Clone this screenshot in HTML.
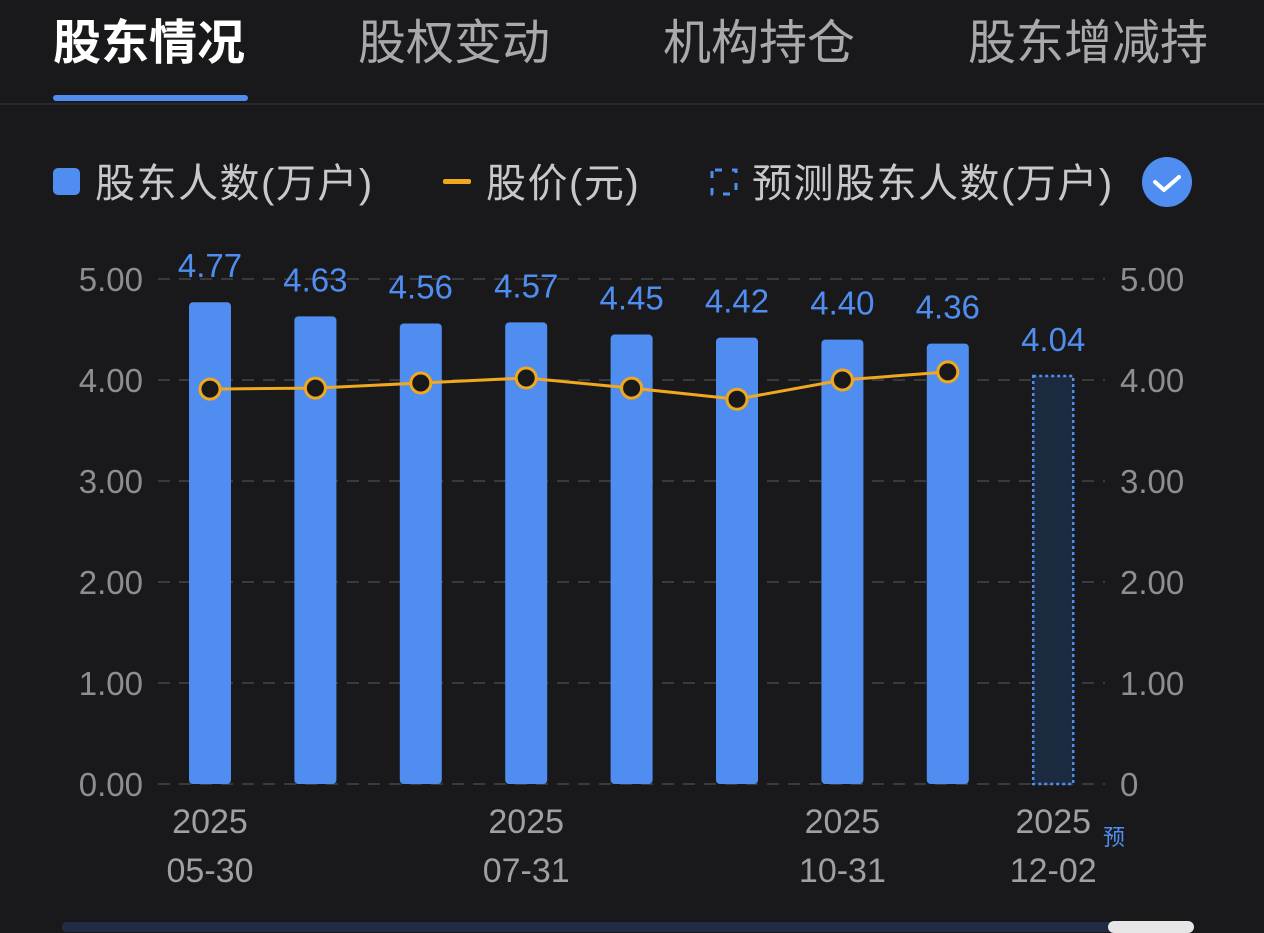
<!DOCTYPE html>
<html><head><meta charset="utf-8"><style>
body{margin:0;width:1264px;height:928px;background:#19191b;overflow:hidden;font-family:"Liberation Sans","Noto Sans CJK SC",sans-serif;position:relative}
.tab{position:absolute;top:14px;font-size:48px;line-height:60px;color:#a9a9ab}
</style></head><body>
<div class="tab" style="left:53px;color:#fff;font-weight:bold">股东情况</div>
<div class="tab" style="left:358px">股权变动</div>
<div class="tab" style="left:663px">机构持仓</div>
<div class="tab" style="left:968px">股东增减持</div>
<div style="position:absolute;left:53px;top:95px;width:195px;height:6px;border-radius:3px;background:#4f8ef0"></div>
<div style="position:absolute;left:0;top:103px;width:1264px;height:2px;background:#2a2a2d"></div>
<svg width="1264" height="928" style="position:absolute;left:0;top:0">
<g font-size="40" fill="#c8c8ca" letter-spacing="1.5">
<rect x="53" y="168" width="27" height="27" rx="5" fill="#4f8ef0"/>
<text x="95" y="197">股东人数(万户)</text>
<rect x="443" y="179" width="28" height="5" rx="2" fill="#f0a81e"/>
<text x="486" y="197">股价(元)</text>
<rect x="712" y="170" width="24" height="24" fill="none" stroke="#4f8ef0" stroke-width="3" stroke-dasharray="7 10" stroke-dashoffset="-3"/>
<text x="752" y="197">预测股东人数(万户)</text>
</g>
<circle cx="1167" cy="182" r="25" fill="#4f8ef0"/>
<path d="M1155 182 l9 8 l15 -13" stroke="#fff" stroke-width="4" fill="none" stroke-linecap="round" stroke-linejoin="round"/>
<g id="g"></g>
</svg>
<div style="position:absolute;left:62px;top:922px;width:1130px;height:10px;background:#222b45;border-radius:4px"></div>
<div style="position:absolute;left:1108px;top:921px;width:86px;height:12px;background:#e6e6e6;border-radius:8px"></div>
<script>
const categories=["2025-05-30","2025-06-30","2025-07-15","2025-07-31","2025-08-31","2025-09-30","2025-10-31","2025-11-15","2025-12-02"];
const holders=[4.77,4.63,4.56,4.57,4.45,4.42,4.40,4.36];
const forecast=4.04;
const price=[3.91,3.92,3.97,4.02,3.92,3.81,4.00,4.08];
const leftTicks=["0.00","1.00","2.00","3.00","4.00","5.00"];
const rightTicks=["0","1.00","2.00","3.00","4.00","5.00"];
const xLabels=[[0,"2025","05-30"],[3,"2025","07-31"],[6,"2025","10-31"],[8,"2025","12-02"]];
const NS="http://www.w3.org/2000/svg",g=document.getElementById('g');
const y=v=>784-v*101, x=i=>210+i*105.4;
function mk(t,a,txt){const e=document.createElementNS(NS,t);for(const k in a)e.setAttribute(k,a[k]);if(txt!=null)e.textContent=txt;g.appendChild(e);return e;}
leftTicks.forEach((t,i)=>{
 const l=mk('line',{x1:158,x2:1105,y1:y(i),y2:y(i),stroke:'#3a3a3d','stroke-width':2,'stroke-dasharray':'12 9'});
 
 
 const a=mk('text',{x:143,y:y(i)+12,'text-anchor':'end','font-size':33,fill:'#8e8e91'},t);
 
 
 const b=mk('text',{x:1120,y:y(i)+12,'font-size':33,fill:'#8e8e91'},rightTicks[i]);
 
 
});
holders.forEach((v,i)=>{
 const r=mk('rect',{x:x(i)-21,y:y(v),width:42,height:y(0)-y(v),rx:4,fill:'#4f8ef0'});
 
 
 const t=mk('text',{x:x(i),y:y(v)-25,'text-anchor':'middle','font-size':33,fill:'#4f8ef0'},v.toFixed(2));
 
 
});
const fr=mk('rect',{x:x(8)-20,y:y(forecast),width:40,height:y(0)-y(forecast),fill:'#1c2a3f',stroke:'#4f8ef0','stroke-width':2.5,'stroke-dasharray':'3 3'});


const ft=mk('text',{x:x(8),y:y(forecast)-25,'text-anchor':'middle','font-size':33,fill:'#4f8ef0'},forecast.toFixed(2));


const pl=mk('polyline',{points:price.map((v,i)=>x(i)+','+y(v)).join(' '),fill:'none',stroke:'#f0a81e','stroke-width':3});


price.forEach((v,i)=>{
 const c=mk('circle',{cx:x(i),cy:y(v),r:10,fill:'#19191b',stroke:'#f0a81e','stroke-width':3});
 
 
});
xLabels.forEach(([i,a,b])=>{
 const t1=mk('text',{x:x(i),y:833,'text-anchor':'middle','font-size':34,fill:'#a0a0a3'},a);
 
 
 const t2=mk('text',{x:x(i),y:882,'text-anchor':'middle','font-size':34,fill:'#a0a0a3'},b);
 
 
});
const yu=mk('text',{x:1103,y:845,'font-size':22,fill:'#4f8ef0'},'预');


</script>
</body></html>
